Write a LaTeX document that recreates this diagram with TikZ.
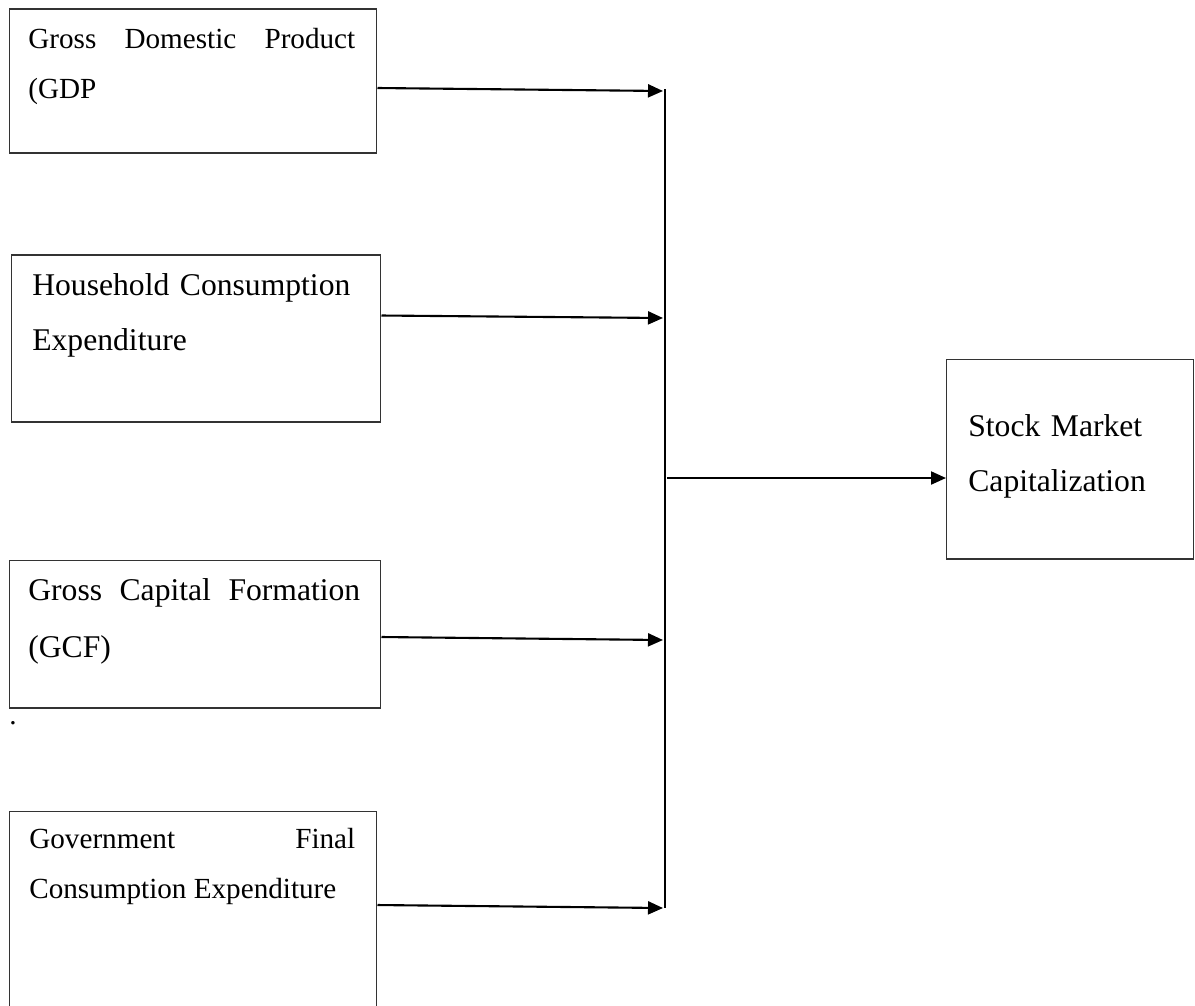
\documentclass[tikz,border=0pt]{standalone}
\usepackage{fontspec}
\setmainfont{Liberation Serif}
\usetikzlibrary{arrows.meta, positioning, calc}

\begin{document}
\begin{tikzpicture}[
  x=0.02cm, y=-0.02cm,
  var box/.style={draw, black!80, line width=0.6pt, rectangle, inner sep=0pt},
  var text/.style={anchor=base west, inner sep=0pt, align=justify},
  small font/.style={font=\fontsize{16.6}{28.5}\selectfont},
  large font/.style={font=\fontsize{18}{31.5}\selectfont},
  link/.style={line width=1.2pt, -{Triangle[length=0.3cm, width=0.26cm]}}
]
  \useasboundingbox (0,0) rectangle (1195,1005);

  % independent variables
  \node[var box, minimum width=7.36cm, minimum height=2.88cm] (gdp)  at (193,81)    {};
  \node[var box, minimum width=7.4cm,  minimum height=3.34cm] (hce)  at (196,338.5) {};
  \node[var box, minimum width=7.44cm, minimum height=2.96cm] (gcf)  at (195,634)   {};
  \node[var box, minimum width=7.36cm, minimum height=4.2cm]  (gfce) at (193,916)   {};

  \node[var text, small font, text width=6.54cm] (gdp text)  at (28,48)  {Gross Domestic Product\linebreak (GDP};
  \node[var text, large font, text width=6.9cm, align=left] (hce text) at (32,295) {Household Consumption\\Expenditure};
  \node[var text, large font, text width=6.64cm, font=\fontsize{18}{33}\selectfont] (gcf text) at (28,600) {Gross Capital Formation\linebreak (GCF)};
  \node[var text, small font, text width=6.52cm] (gfce text) at (29,848) {Government Final\linebreak Consumption Expenditure};
  \node[var text, small font] (dot) at (9,724) {.};

  % dependent variable
  \node[var box, minimum width=4.94cm, minimum height=4cm] (smc) at (1070,459) {};
  \node[var text, large font, text width=4.4cm, align=left] (smc text) at (968,436) {Stock Market\\Capitalization};

  % collecting line
  \coordinate (bus top) at (665,89);
  \coordinate (bus bot) at (665,908);
  \draw[line width=1.2pt] (bus top) -- (bus bot);

  \foreach \src/\dy/\ey in {gdp/-0.14/91, hce/0.46/318, gcf/-0.06/640, gfce/0.22/908} {
    \coordinate (\src in) at (663,\ey);
    \draw[link] ([yshift=\dy cm]\src.east) -- (\src in);
  }

  \coordinate (bus out) at (667,478);
  \draw[link] (bus out) -- (smc.west |- bus out);
\end{tikzpicture}
\end{document}
